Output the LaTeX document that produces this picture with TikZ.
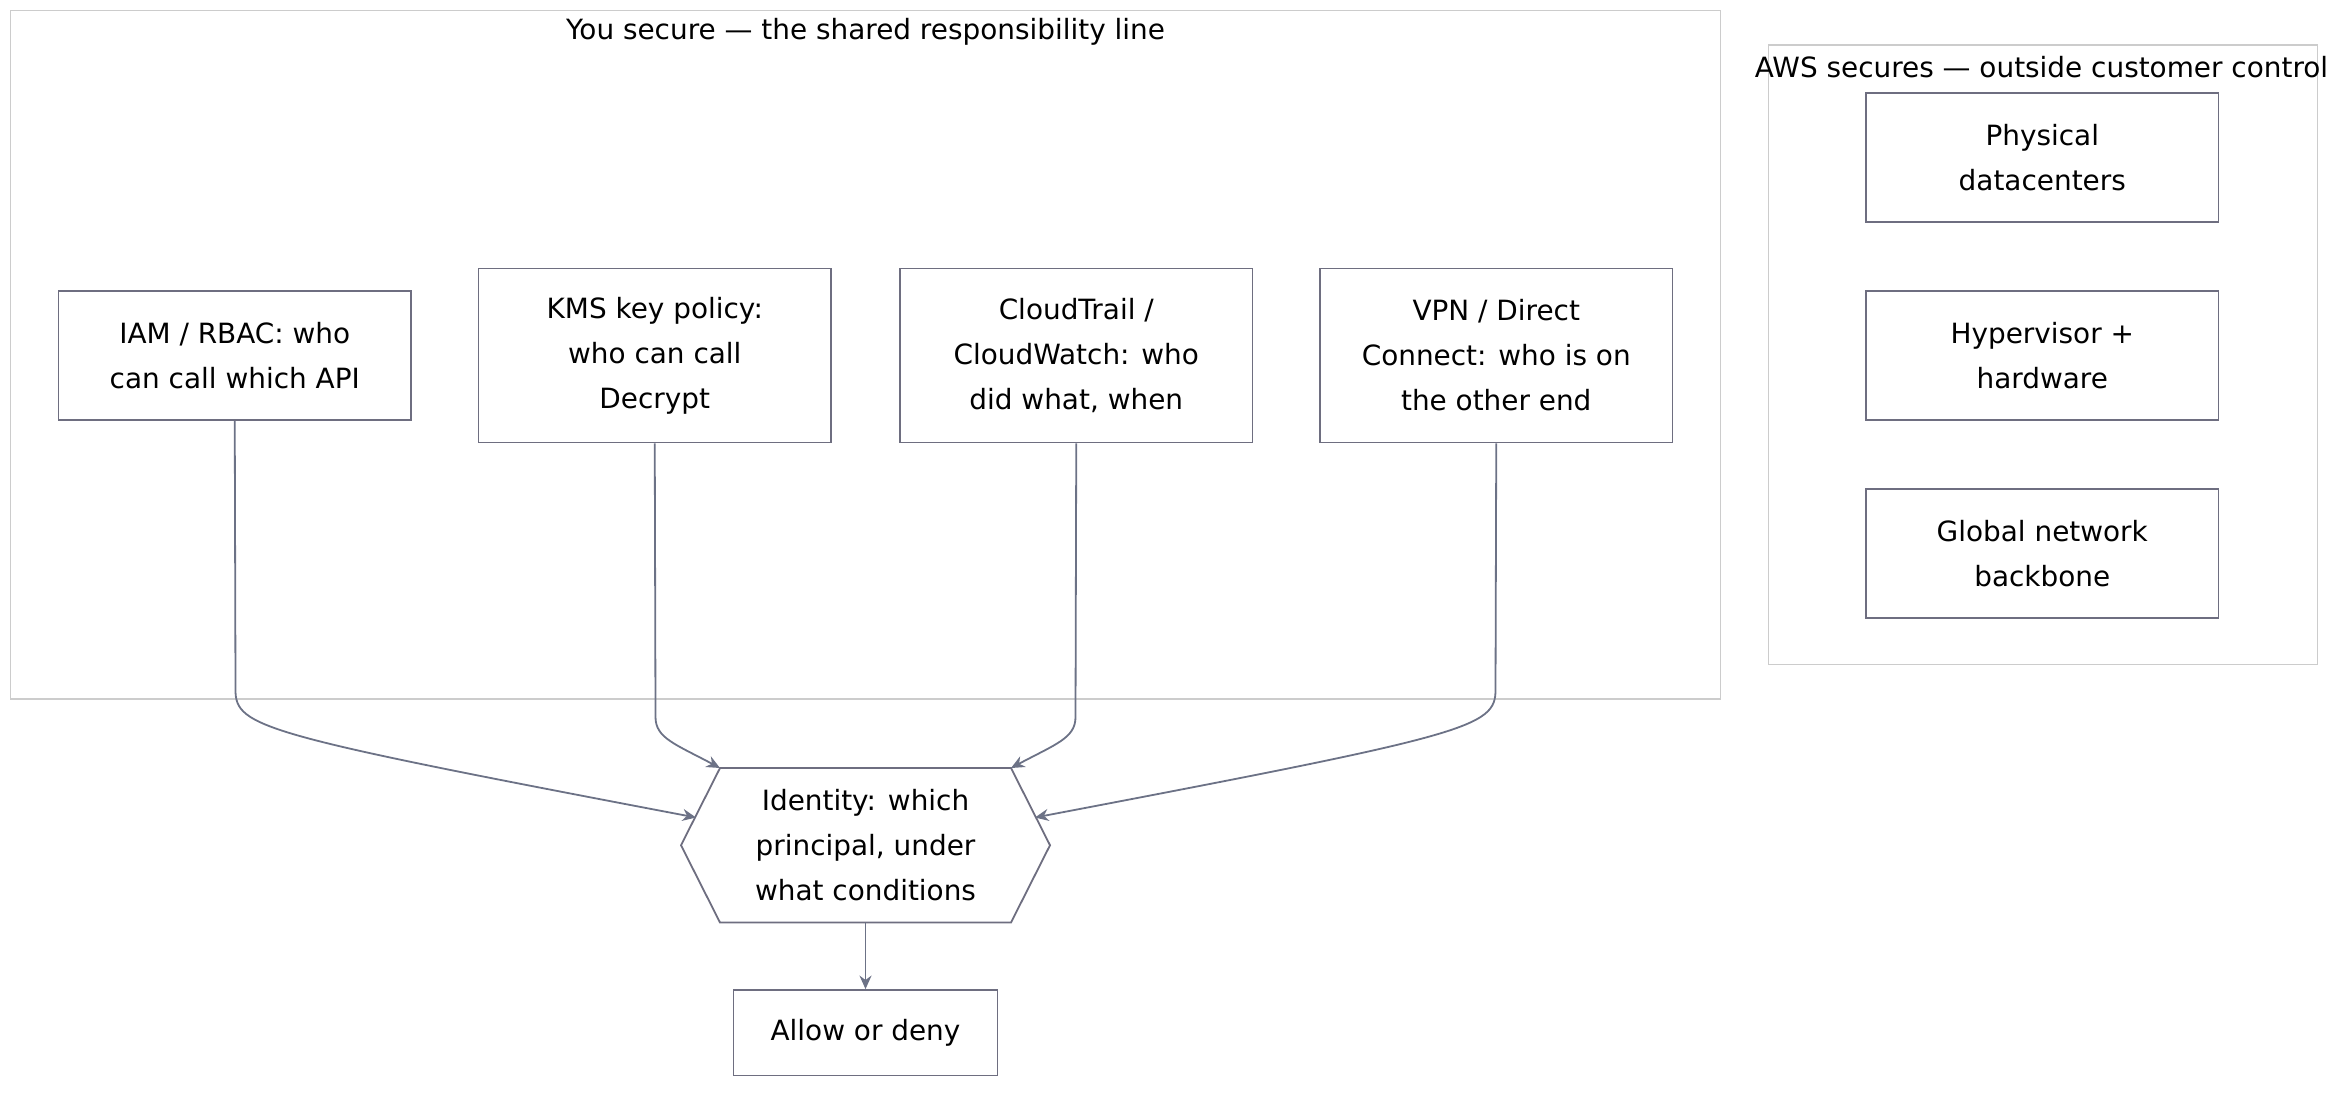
\documentclass[tikz,border=0pt]{standalone}
\usepackage{fontspec}
\setmainfont{DejaVu Sans}
\usetikzlibrary{arrows.meta}
\definecolor{bx}{HTML}{6E6E80}
\definecolor{cl}{HTML}{CCCCCC}
\definecolor{ar}{HTML}{6C7286}
\begin{document}
\begin{tikzpicture}[x=0.5pt,y=-0.5pt,
  box/.style={draw=bx,line width=0.6pt,fill=white,minimum width=117.5pt,align=center,font=\fontsize{9.3}{15}\selectfont,inner sep=0pt},
  clus/.style={draw=cl,line width=0.5pt},
  ttl/.style={font=\fontsize{9.3}{12}\selectfont,anchor=center},
  conn/.style={draw=ar,line width=0.6pt,-{Stealth[length=4.5pt,width=4pt]}}]
\useasboundingbox (0,0) rectangle (1568,734);
\draw[clus] (7,7) rectangle (1147,466);
\node[ttl] (t1) at (577,21) {You secure — the shared responsibility line};
\draw[clus] (1179,30) rectangle (1545,443);
\node[ttl] (t2) at (1361,45) {AWS secures — outside customer control};
\node[box,minimum height=43pt] (pd) at (1361.5,105) {Physical\\datacenters};
\node[box,minimum height=43pt] (hv) at (1361.5,237) {Hypervisor +\\hardware};
\node[box,minimum height=43pt] (gn) at (1361.5,369) {Global network\\backbone};
\node[box,minimum height=43pt] (iam) at (156.5,237) {IAM / RBAC: who\\can call which API};
\node[box,minimum height=58pt] (kms) at (436.5,237) {KMS key policy:\\who can call\\Decrypt};
\node[box,minimum height=58pt] (ct) at (717.5,237) {CloudTrail /\\CloudWatch: who\\did what, when};
\node[box,minimum height=58pt] (vpn) at (997.5,237) {VPN / Direct\\Connect: who is on\\the other end};
\draw[bx,line width=0.6pt,fill=white] (480,512) -- (674,512) -- (700,563.5) -- (674,615) -- (480,615) -- (454,563.5) -- cycle;
\node[align=center,font=\fontsize{9.3}{15}\selectfont,inner sep=0pt,minimum width=97pt,minimum height=51.5pt] (id) at (577,563.5) {Identity: which\\principal, under\\what conditions};
\node[box,minimum width=88pt,minimum height=28.5pt] (al) at (577,688.5) {Allow or deny};
\coordinate (e1) at (464,545);
\coordinate (e2) at (480,512);
\coordinate (e3) at (674,512);
\coordinate (e4) at (690,545);
\coordinate (hb) at (577,615);
\draw[conn] (iam.south) -- (157,460) .. controls (157,485) and (175,490) .. (e1);
\draw[conn] (kms.south) -- (437,478) .. controls (437,492) and (450,496) .. (e2);
\draw[conn] (ct.south) -- (717,478) .. controls (717,492) and (704,496) .. (e3);
\draw[conn] (vpn.south) -- (997,460) .. controls (997,485) and (979,490) .. (e4);
\draw[conn] (hb) -- (al.north);
\end{tikzpicture}
\end{document}
